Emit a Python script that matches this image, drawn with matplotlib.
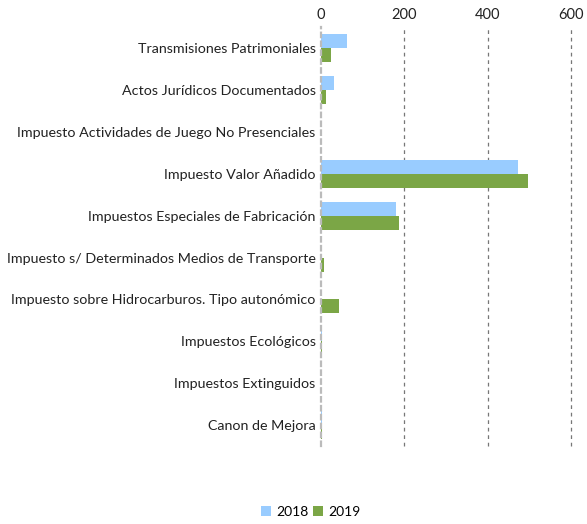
import matplotlib.pyplot as plt
import numpy as np

categories = [
    "Transmisiones Patrimoniales",
    "Actos Jurídicos Documentados",
    "Impuesto Actividades de Juego No Presenciales",
    "Impuesto Valor Añadido",
    "Impuestos Especiales de Fabricación",
    "Impuesto s/ Determinados Medios de Transporte",
    "Impuesto sobre Hidrocarburos. Tipo autonómico",
    "Impuestos Ecológicos",
    "Impuestos Extinguidos",
    "Canon de Mejora",
]
values_2018 = [62, 31, 0, 473, 180, 0.5, 0, 1, 0, 1]
values_2019 = [24, 12, 0, 497, 187, 7, 43, 1, 0, 1]
ticks = [0, 200, 400, 600]

plt.rcParams['font.family'] = ['Lato', 'DejaVu Sans']

fig = plt.figure(figsize=(5.87, 5.24), dpi=100)
ax = fig.add_axes([0.547, 0.149, 0.426, 0.799])

y = np.arange(len(categories))
h = 0.335
ax.barh(y - h / 2, values_2018, height=h, color="#99ccff", label="2018")
ax.barh(y + h / 2, values_2019, height=h, color="#7ba646", label="2019")

ax.set_ylim(len(categories) - 0.5, -0.5)
ax.set_xlim(0, 600)
ax.set_xticks(ticks)
ax.xaxis.tick_top()
ax.tick_params(axis="x", length=0, labelsize=10.5, colors="#222222", pad=4)
ax.tick_params(axis="y", length=0, labelsize=10.3, colors="#222222", pad=4)
ax.set_yticks(y)
ax.set_yticklabels(categories)

for t in ticks[1:]:
    ax.axvline(t, color="#777777", linestyle=(0, (3, 3)), linewidth=0.9,
               zorder=0, clip_on=False)
for s in ["top", "right", "bottom"]:
    ax.spines[s].set_visible(False)
ax.spines["left"].set_color("#bbbbbb")
ax.spines["left"].set_linestyle((0, (2, 2)))
ax.spines["left"].set_linewidth(1.6)

fig.legend(loc="lower center", bbox_to_anchor=(0.53, -0.012), ncol=2, frameon=False,
           fontsize=10, handlelength=0.7, handleheight=0.7, handletextpad=0.4,
           columnspacing=0.3)

fig.savefig("out.png", dpi=100)
